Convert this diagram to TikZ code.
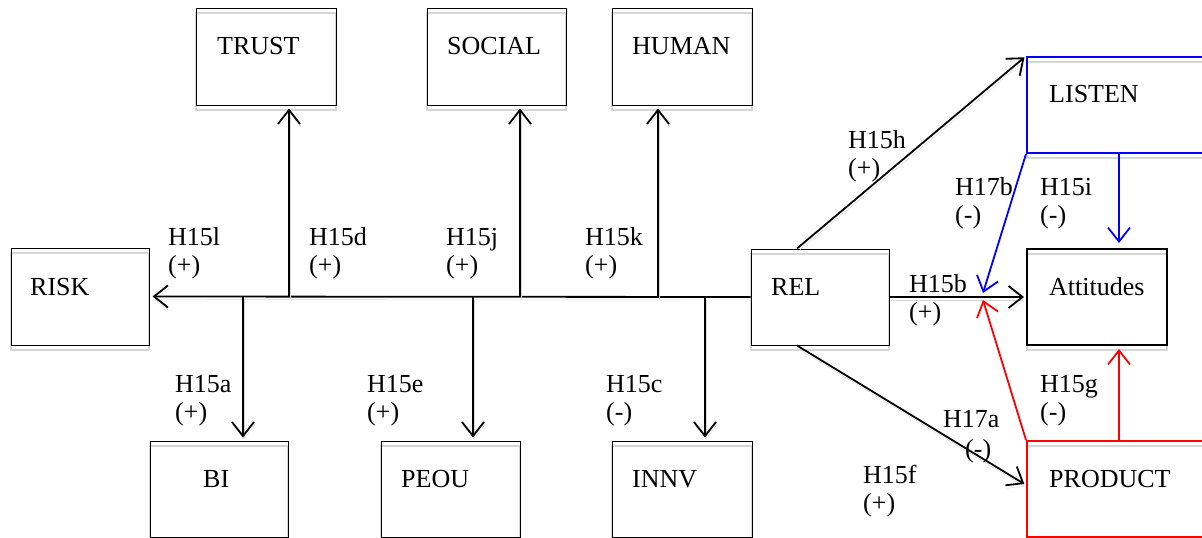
\documentclass[tikz,border=0pt]{standalone}
\usepackage{fontspec}
\setmainfont{Liberation Serif}
\usetikzlibrary{arrows.meta,calc}
\definecolor{shade}{gray}{0.84}
\definecolor{linkblue}{RGB}{0,0,255}
\definecolor{linkred}{RGB}{255,0,0}
\newcommand\hyplabel[5]{%
  \node[lab] (#1a) at (#2,#3) {#4};
  \node[lab] (#1b) at (#2,#3+28) {#5};}
\begin{document}
\begin{tikzpicture}[x=1pt,y=-1pt,
  every node/.style={font=\fontsize{26}{28}\selectfont},
  box/.style={draw, line width=1pt, inner sep=0pt,
    preaction={draw=shade, line width=1.2pt, transform canvas={yshift=-5pt}}},
  boxtext/.style={anchor=base west, inner sep=0pt},
  lab/.style={anchor=base west, inner sep=0pt},
  arr/.style={line width=1.8pt, -{Straight Barb[length=14pt,width=22pt,line width=1.8pt]},
    preaction={draw=shade, transform canvas={shift={(1pt,-3pt)}}}},
  carr/.style={line width=1.8pt, -{Straight Barb[length=14pt,width=22pt,line width=1.8pt]}}]
\useasboundingbox (0,0) rectangle (1202,538);
\clip (0,0) rectangle (1202,538);

% construct boxes
\node[box, minimum width=140, minimum height=97] (trust)  at (266,56.5) {};
\node[box, minimum width=139, minimum height=97] (social) at (496.5,56.5) {};
\node[box, minimum width=140, minimum height=97] (human)  at (682,56.5) {};
\node[box, minimum width=138, minimum height=97] (risk)   at (80,296.5) {};
\node[box, minimum width=138, minimum height=96] (rel)    at (820,297) {};
\node[box, line width=2pt, minimum width=140, minimum height=96] (att) at (1097,297) {};
\node[box, draw=linkblue, line width=2pt, minimum width=223, minimum height=96] (listen)  at (1138.5,105) {};
\node[box, draw=linkred, line width=2pt, minimum width=223, minimum height=96] (product) at (1138.5,489) {};
\node[box, minimum width=138, minimum height=96] (bi)     at (219,489) {};
\node[box, minimum width=139, minimum height=96] (peou)   at (450.5,489) {};
\node[box, minimum width=140, minimum height=96] (innv)   at (682,489) {};

% box captions
\node[boxtext] (trust-t)   at (217,54)  {TRUST};
\node[boxtext] (social-t)  at (447,54)  {SOCIAL};
\node[boxtext] (human-t)   at (632,54)  {HUMAN};
\node[boxtext] (risk-t)    at (30,295)  {RISK};
\node[boxtext] (rel-t)     at (771,295) {REL};
\node[boxtext] (att-t)     at (1049,295) {Attitudes};
\node[boxtext] (listen-t)  at (1049,102) {LISTEN};
\node[boxtext] (product-t) at (1049,487) {PRODUCT};
\node[boxtext] (bi-t)      at (203,487) {BI};
\node[boxtext] (peou-t)    at (401,487) {PEOU};
\node[boxtext] (innv-t)    at (632,487) {INNV};

% junctions on the main line
\coordinate (jbi)     at (243,297);
\coordinate (jtrust)  at (289,297);
\coordinate (jpeou)   at (473,297);
\coordinate (jsocial) at (520,297);
\coordinate (jhuman)  at (658,297);
\coordinate (jinnv)   at (705,297);

% main line from REL to RISK and its branches
\draw[arr, shorten >=3pt] (rel.west) -- (risk.east);
\draw[arr, shorten >=3pt] (jtrust)  -- (jtrust  |- trust.south);
\draw[arr, shorten >=3pt] (jsocial) -- (jsocial |- social.south);
\draw[arr, shorten >=3pt] (jhuman)  -- (jhuman  |- human.south);
\draw[arr, shorten >=3pt] (jbi)     -- (jbi     |- bi.north);
\draw[arr, shorten >=3pt] (jpeou)   -- (jpeou   |- peou.north);
\draw[arr, shorten >=3pt] (jinnv)   -- (jinnv   |- innv.north);

% paths leaving REL
\draw[arr, shorten >=2pt] ($(rel.north)+(-23,0)$) -- (listen.north west);
\draw[arr, shorten >=2pt] ($(rel.south)+(-23,0)$) -- ($(product.west)+(0,-4)$);
\draw[arr, shorten >=2pt] (rel.east) -- (att.west);

% moderating paths
\coordinate (mb) at (983,293);
\coordinate (mr) at (983,300);
\draw[carr, draw=linkblue] (listen.south west) -- (mb);
\draw[carr, draw=linkblue, shorten >=5pt] ($(listen.south west)+(93,0)$) -- ($(att.north west)+(93,0)$);
\draw[carr, draw=linkred] (product.north west) -- (mr);
\draw[carr, draw=linkred, shorten >=3pt] ($(product.north west)+(93,0)$) -- ($(att.south west)+(93,0)$);

% hypothesis labels
\hyplabel{h15l}{168}{245}{H15l}{(+)}
\hyplabel{h15d}{309}{245}{H15d}{(+)}
\hyplabel{h15j}{446}{245}{H15j}{(+)}
\hyplabel{h15k}{585}{245}{H15k}{(+)}
\hyplabel{h15a}{175}{392}{H15a}{(+)}
\hyplabel{h15e}{367}{392}{H15e}{(+)}
\hyplabel{h15c}{606}{392}{H15c}{(-)}
\hyplabel{h15h}{848}{148}{H15h}{(+)}
\hyplabel{h17b}{955}{195}{H17b}{(-)}
\hyplabel{h15i}{1040}{195}{H15i}{(-)}
\hyplabel{h15b}{909}{292}{H15b}{(+)}
\hyplabel{h15g}{1040}{392}{H15g}{(-)}
\hyplabel{h15f}{863}{483}{H15f}{(+)}
\node[lab] (h17aa) at (943,427) {H17a};
\node[lab] (h17ab) at (965,457) {(-)};
\end{tikzpicture}
\end{document}
